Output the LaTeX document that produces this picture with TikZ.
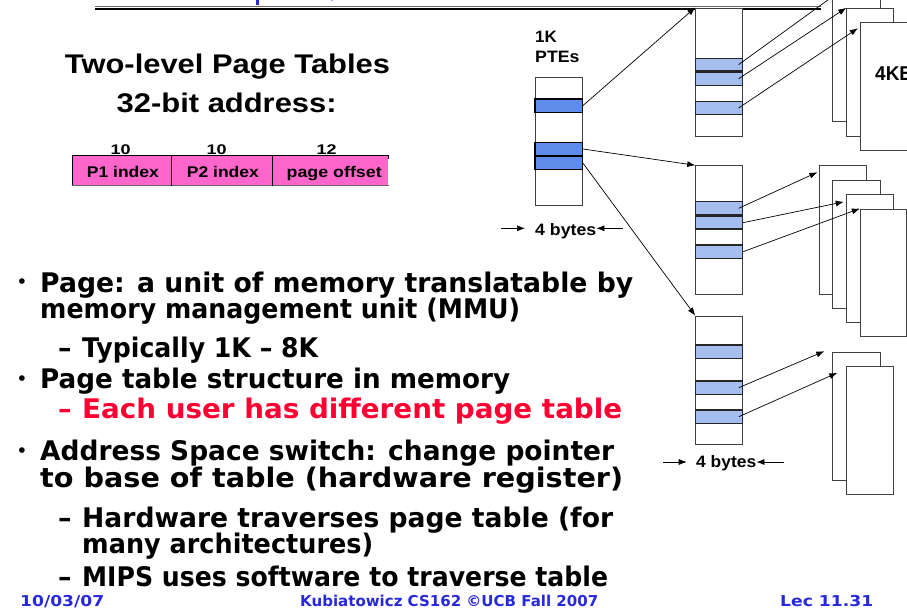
\documentclass[tikz,border=0pt]{standalone}
\usepackage{graphicx}
\usepackage{fontspec}
\setmainfont{Liberation Sans}
\newfontfamily\comicf{DejaVu Sans}
\usetikzlibrary{arrows.meta,calc,fit}
\definecolor{addrpink}{RGB}{255,102,204}
\definecolor{rowdark}{RGB}{95,140,235}
\definecolor{rowlight}{RGB}{165,190,240}
\definecolor{slideblue}{RGB}{40,40,220}
\definecolor{slidered}{RGB}{255,0,51}
\newcommand{\fw}[2]{\resizebox{#1}{\height}{#2}}
\begin{document}
\begin{tikzpicture}[x=1pt,y=-1pt,
  tbl/.style={draw=black!75, line width=0.9pt, fill=white, inner sep=0pt},
  pg/.style={draw=black!75, line width=0.9pt, fill=white, inner sep=0pt},
  rowd/.style={draw=black, line width=1.1pt, fill=rowdark, inner sep=0pt},
  rowl/.style={draw=black!85, line width=1.1pt, fill=rowlight, inner sep=0pt},
  cell/.style={fill=addrpink, inner sep=0pt},
  conn/.style={-{Latex[length=8pt,width=6pt]}, line width=0.7pt},
  head/.style={font=\fontsize{27}{32}\selectfont\bfseries, inner sep=0pt, anchor=base},
  albl/.style={font=\fontsize{15.5}{18}\selectfont\bfseries, inner sep=0pt, anchor=base},
  nlbl/.style={font=\fontsize{14}{16}\selectfont\bfseries, inner sep=0pt, anchor=base},
  slbl/.style={font=\fontsize{16.5}{19}\selectfont\bfseries, inner sep=0pt, anchor=base west},
  bul/.style={font=\comicf\bfseries\fontsize{27}{32}\selectfont, inner sep=0pt, anchor=base west},
  dot/.style={font=\comicf\bfseries\fontsize{16}{20}\selectfont, inner sep=0pt, anchor=center},
  foot/.style={font=\comicf\bfseries\fontsize{15}{18}\selectfont, text=slideblue, inner sep=0pt, anchor=base west}]
\useasboundingbox (0,0) rectangle (907,610);
\clip (0,0) rectangle (907,610);
\fill[white] (0,0) rectangle (907,610);

% title rule and fragment
\fill[slideblue] (255.7,0) rectangle (259,5);
\fill[slideblue!40] (330.5,0) rectangle (332.5,1.5);
\draw[black!60, line width=0.8pt] (95,6.3) -- (821,6.3);
\draw[black, line width=1.6pt] (95,9.3) -- (821,9.3);

% headings
\node[head] (h1) at (227.5,74) {\fw{325pt}{Two-level Page Tables}};
\node[head] (h2) at (226.7,112) {\fw{220pt}{32-bit address:}};

% address format
\node[cell, fit={(72.3,156) (171.7,185.7)}] (c1) {};
\node[cell, fit={(171.7,156) (272.7,185.7)}] (c2) {};
\node[cell, fit={(272.7,156) (388.3,185.7)}] (c3) {};
\draw[black, line width=1.1pt] (c3.north east) -- (c1.north west) -- (c1.south west);
\draw[black!60, line width=1.1pt] (c1.south west) -- (c3.south east);
\draw[black, line width=1.1pt] (c1.north east) -- (c1.south east);
\draw[black, line width=1.1pt] (c2.north east) -- (c2.south east);
\draw[black, line width=1.1pt] (c3.north east) -- ++(0,3);
\node[albl] (t1) at (122.9,177.7) {\fw{72pt}{P1 index}};
\node[albl] (t2) at (222.9,177.7) {\fw{72pt}{P2 index}};
\node[albl] (t3) at (334.2,177.7) {\fw{95pt}{page offset}};
\node[nlbl] (n1) at (120.7,154) {\fw{20pt}{10}};
\node[nlbl] (n2) at (216.7,154) {\fw{20pt}{10}};
\node[nlbl] (n3) at (326.7,154) {\fw{20pt}{12}};

% first level table
\node[slbl] (k1) at (535,42.3) {\fw{21.7pt}{1K}};
\node[slbl] (k2) at (535,62.3) {\fw{44.3pt}{PTEs}};
\node[tbl, fit={(535,77.3) (582.3,205.7)}] (L) {};
\node[rowd, fit={(535,99) (582.3,112.3)}] (L1) {};
\node[rowd, fit={(535,142.3) (582.3,155.7)}] (L2) {};
\node[rowd, fit={(535,156.3) (582.3,169.7)}] (L3) {};
\node[slbl] (fb1) at (535,235) {\fw{61pt}{4 bytes}};
\coordinate (fb1l) at (501,228.3);
\coordinate (fb1r) at (623,228.3);

% second level tables
\node[tbl, fit={(695.7,8) (742.7,136)}] (T1) {};
\node[rowl, fit={(695.7,58.3) (742.7,71)}] (T1a) {};
\node[rowl, fit={(695.7,72.3) (742.7,85.3)}] (T1b) {};
\node[rowl, fit={(695.7,101.7) (742.7,114.3)}] (T1c) {};

\node[tbl, fit={(695.7,165.7) (742.7,294)}] (T2) {};
\node[rowl, fit={(695.7,201.7) (742.7,215)}] (T2a) {};
\node[rowl, fit={(695.7,216.7) (742.7,229)}] (T2b) {};
\node[rowl, fit={(695.7,245) (742.7,258.3)}] (T2c) {};

\node[tbl, fit={(695.7,316) (742.3,444.3)}] (T3) {};
\node[rowl, fit={(695.7,345) (742.3,358.3)}] (T3a) {};
\node[rowl, fit={(695.7,381) (742.3,394.3)}] (T3b) {};
\node[rowl, fit={(695.7,410) (742.3,423.3)}] (T3c) {};
\node[slbl] (fb2) at (696,467.3) {\fw{60pt}{4 bytes}};
\coordinate (fb2l) at (663,462);
\coordinate (fb2r) at (784.3,462);

% pages
\node[pg, fit={(832.7,-5) (880,121.7)}] (A) {};
\node[pg, fit={(846.7,8.3) (893.3,136)}] (B) {};
\node[pg, fit={(860.3,22.7) (920,150)}] (C) {};
\node[font=\fontsize{20}{24}\selectfont\bfseries, inner sep=0pt, anchor=base west] (kb) at (875,81) {\fw{38pt}{4KB}};

\node[pg, fit={(819.3,165.7) (866,294)}] (P1) {};
\node[pg, fit={(832.7,180) (880,308.3)}] (P2) {};
\node[pg, fit={(846.7,194.3) (893.3,322.7)}] (P3) {};
\node[pg, fit={(860.3,209) (906.3,336.7)}] (P4) {};

\node[pg, fit={(832.7,352.3) (880,480)}] (Q1) {};
\node[pg, fit={(846.7,366.7) (893.3,494.3)}] (Q2) {};

\coordinate (offtop) at (850,-16);

% connectors
\draw[conn] (L1.east) -- (T1.north west);
\draw[conn] (L2.east) -- (T2.north west);
\draw[conn] (L3.east) -- (T3.north west);

\draw[line width=0.7pt] ($(T1a.east)+(-4.7,0)$) -- (offtop);
\draw[conn] ($(T1b.east)+(-4.7,0)$) -- (B.north west);
\draw[conn] ($(T1c.east)+(-4.7,0)$) -- ($(C.north west)+(-2,6)$);

\draw[conn] ($(T2a.east)+(-4.7,0)$) -- ($(P1.north west)+(-1.5,7)$);
\draw[conn] ($(T2b.east)+(-1,0)$) -- ($(P3.north west)+(-2.5,8)$);
\draw[conn] (T2c.east) -- (P4.north west);

\draw[conn] ($(T3b.east)+(-4,0)$) -- ($(Q1.north west)+(-8,-0.6)$);
\draw[conn] ($(T3c.east)+(-4,0)$) -- ($(Q2.north west)+(-9,6.6)$);

\draw[conn] (fb1l) -- ($(fb1.base west)+(-10,-6.7)$);
\draw[conn] (fb1r) -- ($(fb1.base east)+(0,-6.7)$);
\draw[conn] (fb2l) -- ($(fb2.base west)+(-9.3,-5.3)$);
\draw[conn] (fb2r) -- ($(fb2.base east)+(0,-5.3)$);

% bullet text
\node[dot] (d1) at (22,283) {•};
\node[bul] (b1t) at (40,292) {\fw{593pt}{Page: a unit of memory translatable by}};
\node[bul] (b1u) at (40,318) {\fw{480pt}{memory management unit (MMU)}};
\node[bul] (s1d) at (58,357) {–};
\node[bul] (s1t) at (82,357) {\fw{236pt}{Typically 1K – 8K}};
\node[dot] (d2) at (22,380) {•};
\node[bul] (b2t) at (40,388) {\fw{470pt}{Page table structure in memory}};
\node[bul, text=slidered] (s2d) at (58,418) {–};
\node[bul, text=slidered] (s2t) at (82,418) {\fw{540pt}{Each user has different page table}};
\node[dot] (d3) at (22,452) {•};
\node[bul] (b3t) at (40,460) {\fw{574pt}{Address Space switch: change pointer}};
\node[bul] (b3u) at (40,487) {\fw{583pt}{to base of table (hardware register)}};
\node[bul] (s3d) at (58,527) {–};
\node[bul] (s3t) at (82,527) {\fw{531pt}{Hardware traverses page table (for}};
\node[bul] (s3u) at (82,553) {\fw{291pt}{many architectures)}};
\node[bul] (s4d) at (58,586) {–};
\node[bul] (s4t) at (82,586) {\fw{526pt}{MIPS uses software to traverse table}};

% footer
\node[foot] (f1) at (20,606) {\fw{84pt}{10/03/07}};
\node[foot] (f2) at (300,606) {\fw{298pt}{Kubiatowicz CS162 ©UCB Fall 2007}};
\node[foot] (f3) at (780,606) {\fw{93pt}{Lec 11.31}};
\end{tikzpicture}
\end{document}
